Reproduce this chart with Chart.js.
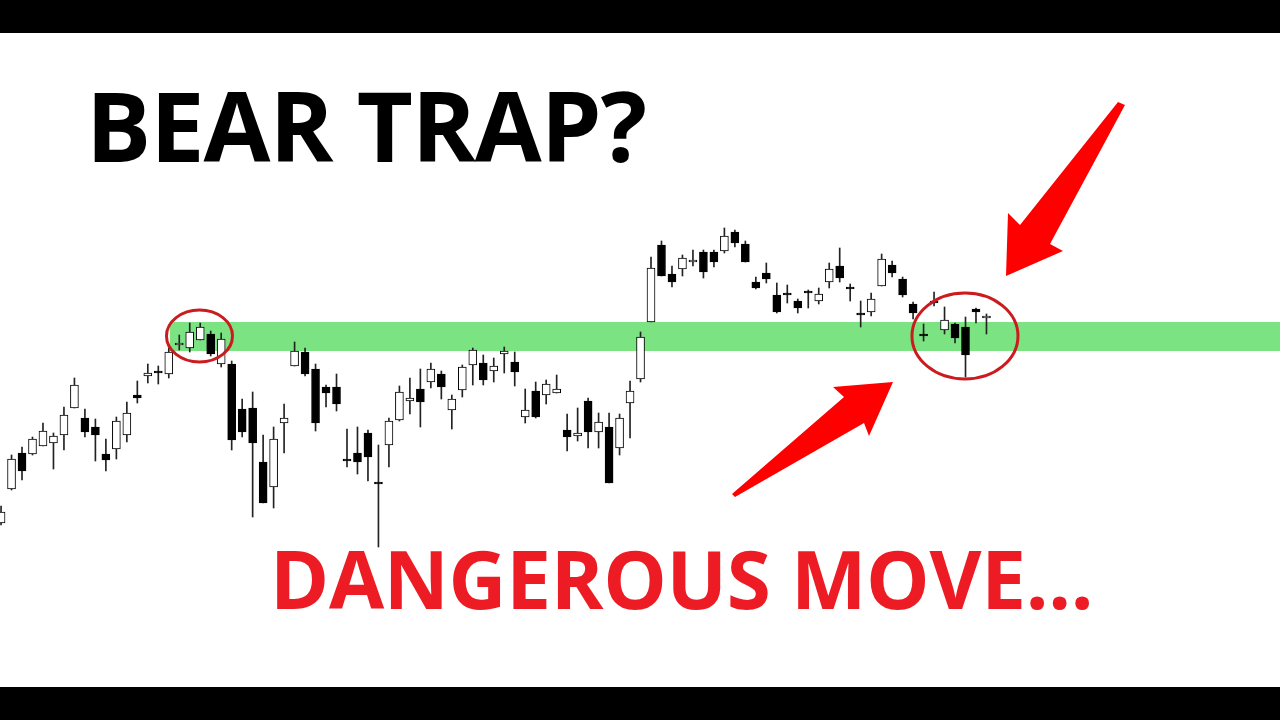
<!DOCTYPE html>
<html>
<head>
<meta charset="utf-8">
<script src="https://cdn.jsdelivr.net/npm/chart.js@4"></script>
<style>
  body { margin: 0; background: #fff; width: 1280px; height: 720px; overflow: hidden; position: relative; }
  #chart { position: absolute; left: 0; top: 0; }
  .bar { position: absolute; left: 0; width: 1280px; height: 33px; background: #000; z-index: 3; }
  .label { position: absolute; font-family: "Open Sans", sans-serif; font-weight: 700; white-space: nowrap; z-index: 2; }
  #title { left: 86px; top: 76px; font-size: 97px; line-height: 97px; color: #000; letter-spacing: -1px; }
  #sub { left: 270px; top: 538px; font-size: 80px; line-height: 80px; color: #ed1c24; letter-spacing: -0.3px; }
</style>
</head>
<body>
<div class="bar" style="top:0"></div>
<div class="bar" style="top:687px"></div>
<canvas id="chart" width="1280" height="720"></canvas>
<div class="label" id="title">BEAR TRAP?</div>
<div class="label" id="sub">DANGEROUS MOVE...</div>
<script>
console.log("candle chart running");

// OHLC, one entry per session
let opens  = [197,231,267,266,274,277,285,312,302,293,266,271,285,325,344,349,346,375,372,380,
              386,356,356,311,312,258,233,297,354,368,351,333,333,261,267,287,236,275,300,319,
              331,338,346,310,330,355,357,349,366,358,303,329,325,327,290,284,319,288,293,272,
              317,341,398,475,446,451,458,468,468,469,488,476,438,447,425,425,419,427,419,438,
              454,431,405,408,434,455,441,416,384,419,390,396,393,411,402];
let highs  = [214,265,273,283,297,287,313,342,311,301,281,303,318,339,356,354,372,385,397,397,
              389,387,359,321,328,285,293,316,378,372,356,335,346,291,293,290,275,302,334,342,
              351,357,349,325,355,372,365,362,373,368,331,338,340,345,306,312,322,307,307,306,
              339,388,463,479,454,465,470,470,470,492,490,479,443,457,437,435,421,430,432,457,
              472,436,419,427,466,459,443,418,396,428,413,397,403,412,406];
let lows   = [195,230,240,265,274,251,270,312,283,259,249,261,278,317,337,336,342,370,368,380,
              364,353,270,283,203,217,212,267,354,344,289,313,309,253,246,239,173,253,299,306,
              293,332,321,291,323,335,335,338,347,334,297,302,316,327,269,279,272,272,237,265,
              282,338,398,444,433,444,454,442,453,467,473,458,431,437,407,417,407,412,416,432,
              438,419,393,404,434,443,423,401,379,414,386,377,343,397,386];
let closes = [208,261,249,281,289,284,305,335,288,285,260,299,307,322,347,347,368,377,388,393,
              366,381,280,288,277,217,281,302,369,346,297,327,316,259,258,263,236,299,328,322,
              318,351,333,321,353,370,340,354,369,348,310,303,336,331,283,287,288,298,237,302,
              329,383,452,444,438,462,460,448,458,484,477,458,432,441,408,425,412,427,426,451,
              442,431,405,421,461,447,425,407,384,417,400,382,365,408,404];

// support zone and the two circled areas
let zoneLow = 369, zoneHigh = 398, zoneFrom = 16.1;
let circles = [
  { x: 18.93, price: 384, rx: 33, ry: 26 },
  { x: 91.95, price: 384, rx: 53, ry: 43 }
];
// arrow outlines (pixels)
let arrows = [
  [[1118,102],[1125,105],[1050,244],[1063,251],[1006,276],[1008,213],[1020,225]],
  [[732,494],[735,497],[864,423],[869,436],[893,382],[833,387],[844,397]]
];

let wicks = [];
let bodies = [];
let bodyColors = [];
for (let i = 0; i < opens.length; i++) {
  wicks.push({ x: i, y: [lows[i], highs[i]] });
  bodies.push({ x: i, y: [opens[i], closes[i]] });
  bodyColors.push(closes[i] > opens[i] ? "#ffffff" : "#000000");
}

const extras = {
  id: "extras",
  beforeDatasetsDraw(chart) {
    let ctx = chart.ctx;
    let xs = chart.scales.x, ys = chart.scales.y;
    let top = ys.getPixelForValue(zoneHigh);
    let bottom = ys.getPixelForValue(zoneLow);
    let left = xs.getPixelForValue(zoneFrom);
    ctx.save();
    ctx.fillStyle = "rgb(124,227,130)";
    ctx.fillRect(left, top, chart.width - left, bottom - top);
    ctx.restore();
  },
  afterDatasetsDraw(chart) {
    let ctx = chart.ctx;
    let xs = chart.scales.x, ys = chart.scales.y;
    ctx.save();
    ctx.strokeStyle = "#cc1b1f";
    ctx.lineWidth = 3;
    circles.forEach(c => {
      ctx.beginPath();
      ctx.ellipse(xs.getPixelForValue(c.x), ys.getPixelForValue(c.price), c.rx, c.ry, 0, 0, Math.PI * 2);
      ctx.stroke();
    });
    ctx.fillStyle = "#ff0000";
    arrows.forEach(pts => {
      ctx.beginPath();
      ctx.moveTo(pts[0][0], pts[0][1]);
      for (let k = 1; k < pts.length; k++) ctx.lineTo(pts[k][0], pts[k][1]);
      ctx.closePath();
      ctx.fill();
    });
    ctx.restore();
  }
};

new Chart(document.getElementById("chart"), {
  type: "bar",
  data: {
    datasets: [
      {
        label: "body",
        data: bodies,
        backgroundColor: bodyColors,
        borderColor: "#000000",
        borderWidth: 1,
        borderSkipped: false,
        barThickness: 8,
        minBarLength: 2,
        grouped: false,
        order: 0
      },
      {
        label: "wick",
        data: wicks,
        backgroundColor: "#222222",
        borderWidth: 0,
        barThickness: 1,
        grouped: false,
        order: 1
      }
    ]
  },
  options: {
    responsive: false,
    animation: false,
    layout: { padding: 0 },
    plugins: { legend: { display: false }, tooltip: { enabled: false } },
    scales: {
      x: { type: "linear", min: -0.1, max: 122, offset: false, display: false, grid: { offset: false } },
      y: { type: "linear", min: 0, max: 720, display: false }
    }
  },
  plugins: [extras]
});
</script>
</body>
</html>
